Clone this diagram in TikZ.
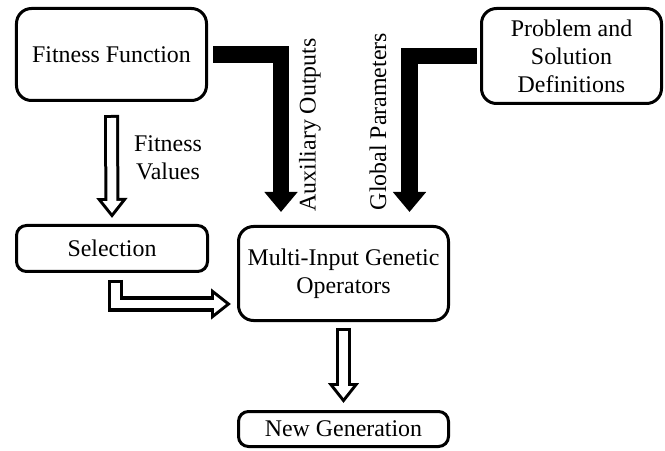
\documentclass[tikz,border=0pt]{standalone}
\usepackage{fontspec}
\setmainfont{Liberation Serif}
\usetikzlibrary{arrows.meta}

\begin{document}
\begin{tikzpicture}[scale=1,
    font=\fontsize{13.6}{16}\selectfont,
    block/.style={draw, line width=0.06cm, rounded corners=0.3cm, inner sep=0pt, outer sep=0pt, align=center},
    smallblock/.style={block, rounded corners=0.2cm},
    solidarrow/.style={line width=0.33cm, -{Triangle[width=0.64cm,length=0.4cm]}},
    hollow/.style={line width=0.3cm, -{Triangle[width=0.6cm,length=0.4cm]},
        postaction={draw=white, line width=0.18cm, shorten <=0.06cm, shorten >=0.1cm,
            -{Triangle[width=0.36cm,length=0.24cm]}}}]
    \useasboundingbox (0,0) rectangle (13.3,9);

    \node[block, minimum width=3.8cm, minimum height=1.84cm] (fit) at (2.23,7.91) {Fitness Function};
    \node[block, minimum width=3.6cm, minimum height=1.9cm] (prob) at (11.43,7.88) {Problem and\\Solution\\Definitions};
    \node[smallblock, minimum width=3.82cm, minimum height=0.92cm] (sel) at (2.24,4.03) {Selection};
    \node[block, minimum width=4.2cm, minimum height=1.88cm] (multi) at (6.87,3.53) {Multi-Input Genetic\\Operators};
    \node[smallblock, minimum width=4.2cm, minimum height=0.7cm] (newgen) at (6.87,0.42) {New Generation};

    \draw[solidarrow] ([xshift=0.13cm]fit.east) -| ([shift={(-1.25,0.29)}]multi.north);
    \draw[solidarrow] ([xshift=-0.09cm]prob.west) -| ([shift={(1.32,0.29)}]multi.north);
    \node[rotate=90] (auxlbl) at (6.2,6.5) {Auxiliary Outputs};
    \node[rotate=90] (globlbl) at (7.56,6.57) {Global Parameters};

    \draw[hollow] ([yshift=-0.29cm]fit.south) -- ([yshift=0.15cm]sel.north);
    \node[align=center] (fitval) at (3.36,5.85) {Fitness\\Values};
    \draw[hollow] ([shift={(0.07,-0.17)}]sel.south) |- ([shift={(-0.15,-0.61)}]multi.west);
    \draw[hollow] ([yshift=-0.15cm]multi.south) -- ([yshift=0.17cm]newgen.north);
    \end{tikzpicture}
\end{document}
